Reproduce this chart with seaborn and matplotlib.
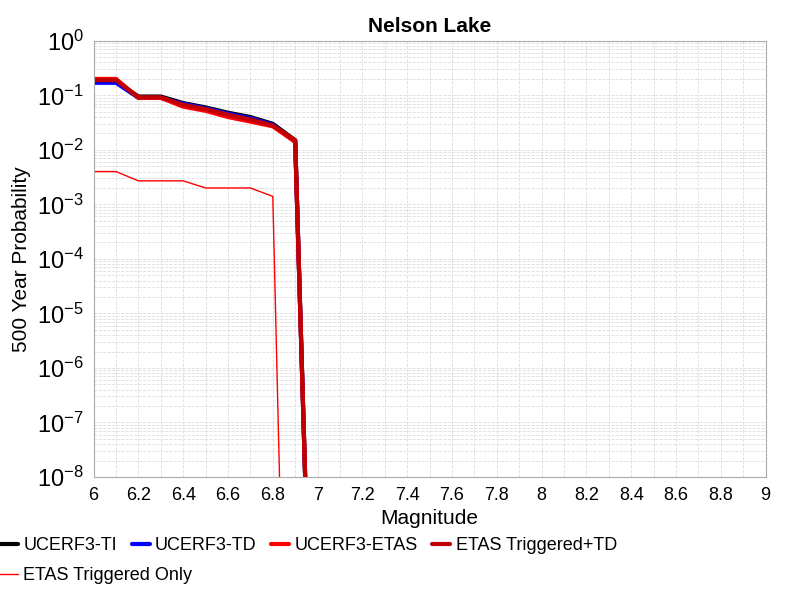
import numpy as np
import pandas as pd
import matplotlib
matplotlib.use("Agg")
import matplotlib.pyplot as plt
import seaborn as sns
from matplotlib.ticker import LogLocator, MultipleLocator

sns.set_style("white")
plt.rcParams['font.family'] = ['Liberation Sans', 'DejaVu Sans']
plt.rcParams['text.color'] = 'black'
plt.rcParams['axes.labelcolor'] = 'black'
plt.rcParams['xtick.color'] = 'black'
plt.rcParams['ytick.color'] = 'black'

mags = [6.0, 6.1, 6.2, 6.3, 6.4, 6.5, 6.6, 6.7, 6.8, 6.9, 7.0]
ti = [0.18, 0.18, 0.095, 0.095, 0.072, 0.06, 0.048, 0.04, 0.03, 0.015, 2e-16]
td = [0.17, 0.17, 0.09, 0.09, 0.07, 0.058, 0.046, 0.038, 0.029, 0.014, 2e-16]
etas = [0.2, 0.2, 0.09, 0.09, 0.062, 0.052, 0.04, 0.033, 0.027, 0.014, 2e-16]
etas_td = [0.19, 0.19, 0.092, 0.092, 0.067, 0.056, 0.044, 0.036, 0.028, 0.015, 2e-16]
trig_mags = [6.0, 6.1, 6.2, 6.3, 6.4, 6.5, 6.6, 6.7, 6.8, 6.9]
trig = [0.004, 0.004, 0.0027, 0.0027, 0.0027, 0.002, 0.002, 0.002, 0.0014, 1e-20]

fig, ax = plt.subplots(figsize=(8, 6), dpi=100)
fig.subplots_adjust(left=0.117, right=0.957, top=0.932, bottom=0.205)

series = [("UCERF3-TI", mags, ti, "black", 3),
          ("UCERF3-TD", mags, td, "#0000ff", 3),
          ("UCERF3-ETAS", mags, etas, "#ff0000", 3),
          ("ETAS Triggered+TD", mags, etas_td, "#c00000", 3),
          ("ETAS Triggered Only", trig_mags, trig, "#ff0000", 1)]
for name, x, y, c, lw in series:
    sns.lineplot(x=x, y=y, ax=ax, color=c, linewidth=lw, label=name)

ax.set_yscale("log")
ax.set_xlim(6, 9)
ax.set_ylim(1e-8, 1)
ax.xaxis.set_major_locator(MultipleLocator(0.2))
ax.xaxis.set_minor_locator(MultipleLocator(0.1))
ax.set_xticklabels([f"{v:g}" for v in ax.get_xticks()])
ax.yaxis.set_major_locator(LogLocator(base=10, numticks=20))
ax.yaxis.set_minor_locator(LogLocator(base=10, subs=np.arange(2, 10), numticks=20))
ax.grid(True, which="both", color="#dddddd", linestyle="--", linewidth=0.6)
ax.tick_params(axis="y", labelsize=17)
ax.tick_params(axis="x", labelsize=13)
ax.set_xlabel("Magnitude", fontsize=15)
ax.set_ylabel("500 Year Probability", fontsize=15)
ax.set_title("Nelson Lake", fontsize=15, fontweight="bold")
for s in ax.spines.values():
    s.set_color("#aaaaaa")

handles, labels = ax.get_legend_handles_labels()
ax.get_legend().remove()
kw = dict(frameon=False, fontsize=13, handlelength=1.0, handletextpad=0.3,
          columnspacing=0.8, borderaxespad=0, borderpad=0)
fig.legend(handles[:4], labels[:4], loc="upper left", bbox_to_anchor=(0.0, 0.105), ncol=4, **kw)
fig.legend(handles[4:], labels[4:], loc="upper left", bbox_to_anchor=(0.0, 0.055), ncol=1, **kw)
fig.savefig("out.png")
